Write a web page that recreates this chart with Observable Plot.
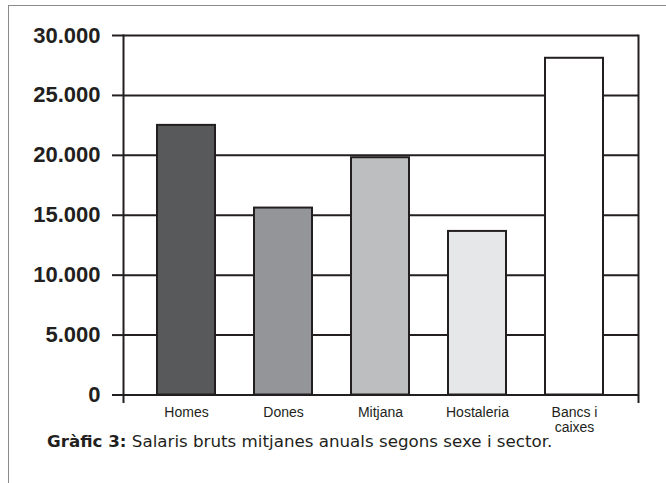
<!DOCTYPE html>
<html>
<head>
<meta charset="utf-8">
<script src="https://cdn.jsdelivr.net/npm/d3@7"></script>
<script src="https://cdn.jsdelivr.net/npm/@observablehq/plot@0.6"></script>
<style>
  html, body { margin: 0; padding: 0; background: #fff; width: 666px; height: 483px; overflow: hidden; }
  #page { position: absolute; left: 8px; top: 5px; width: 700px; height: 520px; border: 1.5px solid #8a8a8a; box-sizing: border-box; }
  #chart { position: absolute; left: 0; top: 0; }
  #caption { position: absolute; left: 47px; top: 431px; font-family: "DejaVu Sans", sans-serif; font-size: 16.7px; color: #231f20; white-space: nowrap; }
  #caption b { font-weight: 700; }
</style>
</head>
<body>
<div id="page"></div>
<div id="chart"></div>
<div id="caption"><b>Gràfic 3:</b> Salaris bruts mitjanes anuals segons sexe i sector.</div>
<script>
const categories = ["Homes", "Dones", "Mitjana", "Hostaleria", "Bancs i\ncaixes"];
const salaries = [22500, 15600, 19800, 13650, 28100];
const fills = ["#58595b", "#939598", "#bcbec0", "#e6e7e8", "#ffffff"];
const yTicks = [0, 5000, 10000, 15000, 20000, 25000, 30000];

const data = categories.map((c, i) => ({category: c, value: salaries[i], fill: fills[i]}));
const fmt = d3.formatLocale({decimal: ",", thousands: ".", grouping: [3], currency: ["", ""]}).format(",");
const ink = "#231f20";

const chart = Plot.plot({
  width: 666,
  height: 440,
  marginLeft: 123,
  marginRight: 28,
  marginTop: 35,
  marginBottom: 45.5,
  style: {fontFamily: "'Liberation Sans', Arial, sans-serif", background: "transparent"},
  x: {domain: categories, paddingInner: 0.4, paddingOuter: 0.34},
  y: {domain: [0, 30000]},
  marks: [
    Plot.gridY(yTicks, {stroke: ink, strokeOpacity: 1, strokeWidth: 2}),
    Plot.barY(data, {x: "category", y: "value", fill: "fill", stroke: ink, strokeWidth: 2}),
    Plot.frame({anchor: "left", stroke: ink, strokeWidth: 2, insetBottom: -7}),
    Plot.frame({anchor: "right", stroke: ink, strokeWidth: 2, insetBottom: -7}),
    Plot.axisY(yTicks, {tickSize: 11, tickPadding: 12, tickFormat: fmt, fontSize: 22, fontWeight: "bold", stroke: ink, strokeWidth: 2, fill: ink, label: null}),
    Plot.axisX({tickSize: 0, tickPadding: 12, fontSize: 14, fill: ink, label: null, lineHeight: 1.05})
  ]
});
document.getElementById("chart").appendChild(chart);
</script>
</body>
</html>
